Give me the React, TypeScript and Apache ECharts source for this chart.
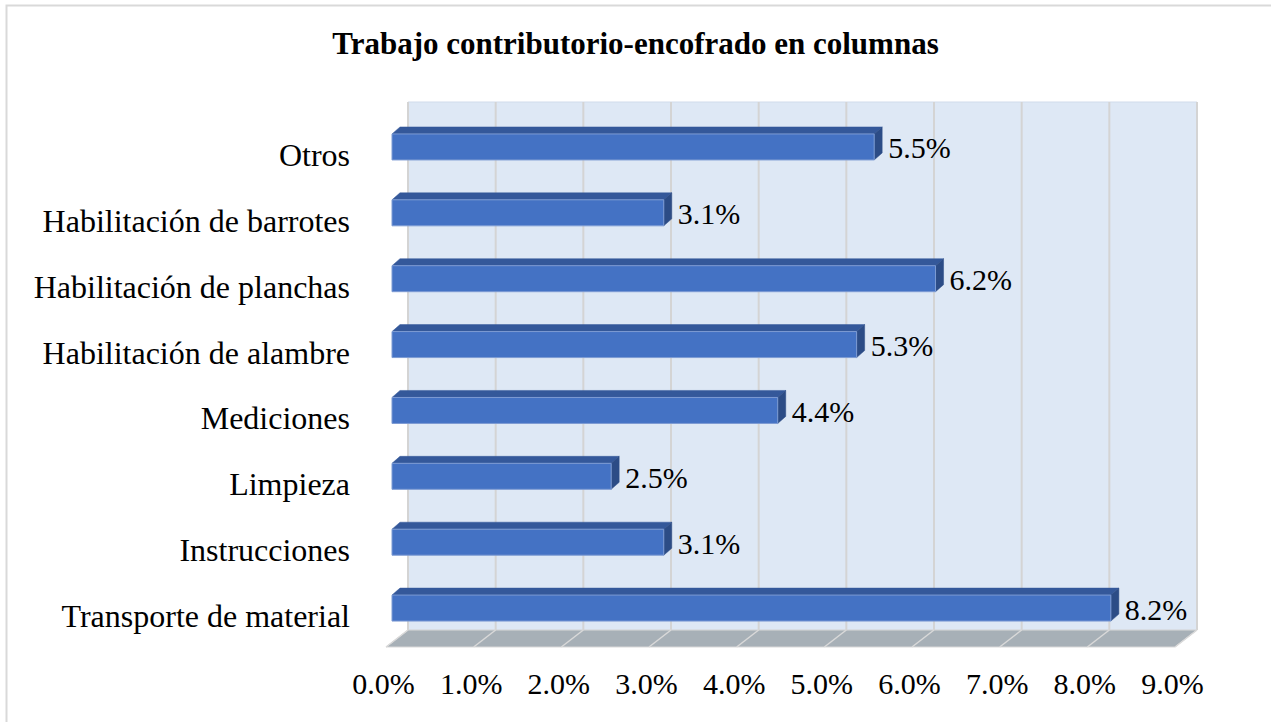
import React, { useEffect, useRef } from "react";
import * as echarts from "echarts";

const TITLE = "Trabajo contributorio-encofrado en columnas";
const categories = [
  "Otros",
  "Habilitación de barrotes",
  "Habilitación de planchas",
  "Habilitación de alambre",
  "Mediciones",
  "Limpieza",
  "Instrucciones",
  "Transporte de material",
];
const values = [5.5, 3.1, 6.2, 5.3, 4.4, 2.5, 3.1, 8.2];
const AXIS_MIN = 0;
const AXIS_MAX = 9;
const AXIS_STEP = 1;
const gridTicks = [0, 1, 2, 3, 4, 5, 6, 7, 8, 9];

const FONT = "'Liberation Serif', 'Times New Roman', serif";

export default function App() {
  const ref = useRef<HTMLDivElement>(null);
  useEffect(() => {
    document.body.style.margin = "0";
    const chart = echarts.init(ref.current!, null, { renderer: "svg" });
    // depth offsets (px)
    const BACK_DX = 16, BACK_DY = -12; // from bar-front plane to back wall
    const FRONT_DX = -6, FRONT_DY = 5; // from bar-front plane to floor front edge
    const BAR_DX = 8, BAR_DY = -7; // bar depth
    const BAR_H = 26;

    const option: any = {
      animation: false,
      backgroundColor: "#ffffff",
      title: {
        text: TITLE,
        left: "center",
        top: 23,
        textStyle: { fontFamily: FONT, fontSize: 31, fontWeight: "bold", color: "#000" },
      },
      graphic: [
        {
          type: "rect",
          shape: { x: 6.5, y: 5.5, width: 1400, height: 800 },
          style: { fill: "none", stroke: "#d9d9d9", lineWidth: 2 },
          silent: true,
        },
      ],
      grid: { left: 392, top: 115, width: 789, height: 527, containLabel: false },
      xAxis: {
        type: "value",
        min: AXIS_MIN,
        max: AXIS_MAX,
        interval: AXIS_STEP,
        splitLine: { show: false },
        axisLine: { show: false },
        axisTick: { show: false },
        axisLabel: {
          formatter: (v: number) => v.toFixed(1) + "%",
          fontFamily: FONT,
          fontSize: 30,
          color: "#000",
          margin: 26,
          padding: [0, 17, 0, 0],
        },
      },
      yAxis: {
        type: "category",
        data: categories,
        inverse: true,
        axisLine: { show: false },
        axisTick: { show: false },
        axisLabel: {
          fontFamily: FONT,
          fontSize: 32,
          color: "#000",
          margin: 42,
          verticalAlign: "top",
          lineHeight: 14,
        },
      },
      series: [
        {
          type: "custom",
          name: "walls",
          z: 1,
          silent: true,
          data: [[0]],
          renderItem: (params: any, api: any) => {
            const cs = params.coordSys;
            const x0 = api.coord([AXIS_MIN, 0])[0];
            const x9 = api.coord([AXIS_MAX, 0])[0];
            const top = cs.y + BACK_DY - 1;
            const bottom = cs.y + cs.height;
            const backBottom = bottom + BACK_DY;
            const frontBottom = bottom + FRONT_DY;
            const children: any[] = [];
            children.push({
              type: "rect",
              shape: { x: x0 + BACK_DX, y: top, width: x9 - x0, height: backBottom - top },
              style: { fill: "#dee8f5", stroke: "#d0dbeb", lineWidth: 1 },
            });
            children.push({
              type: "polygon",
              shape: {
                points: [
                  [x0 + BACK_DX, backBottom],
                  [x9 + BACK_DX, backBottom],
                  [x9 + FRONT_DX, frontBottom],
                  [x0 + FRONT_DX, frontBottom],
                ],
              },
              style: { fill: "#a7b0b7", stroke: "#d9d9d9", lineWidth: 1 },
            });
            gridTicks.forEach((t) => {
              const x = api.coord([t, 0])[0];
              children.push({
                type: "line",
                shape: { x1: x + BACK_DX, y1: top, x2: x + BACK_DX, y2: backBottom },
                style: { stroke: "#d4d4d4", lineWidth: 2 },
              });
              children.push({
                type: "line",
                shape: { x1: x + BACK_DX, y1: backBottom, x2: x + FRONT_DX, y2: frontBottom },
                style: { stroke: "#d9d9d9", lineWidth: 1.5 },
              });
            });
            return { type: "group", children };
          },
        },
        {
          type: "custom",
          name: "bars",
          z: 2,
          data: values.map((v, i) => [v, i]),
          encode: { x: 0, y: 1 },
          renderItem: (params: any, api: any) => {
            const v = api.value(0);
            const idx = api.value(1);
            const p0 = api.coord([AXIS_MIN, idx]);
            const p1 = api.coord([v, idx]);
            const x0 = p0[0];
            const x1 = p1[0];
            const yc = p0[1] - 1;
            const yt = yc - BAR_H / 2;
            const yb = yc + BAR_H / 2;
            return {
              type: "group",
              children: [
                {
                  type: "polygon",
                  shape: {
                    points: [
                      [x0, yt],
                      [x1, yt],
                      [x1 + BAR_DX, yt + BAR_DY],
                      [x0 + BAR_DX, yt + BAR_DY],
                    ],
                  },
                  style: { fill: "#34589a", stroke: "#34589a", lineWidth: 0.5 },
                },
                {
                  type: "polygon",
                  shape: {
                    points: [
                      [x1, yt],
                      [x1 + BAR_DX, yt + BAR_DY],
                      [x1 + BAR_DX, yb + BAR_DY],
                      [x1, yb],
                    ],
                  },
                  style: { fill: "#2c4c86", stroke: "#2c4c86", lineWidth: 0.5 },
                },
                {
                  type: "rect",
                  shape: { x: x0, y: yt, width: x1 - x0, height: BAR_H },
                  style: { fill: "#4472c4", stroke: "#7d9bd3", lineWidth: 1 },
                },
                {
                  type: "text",
                  x: x1 + BAR_DX + 6,
                  y: yc + 1,
                  style: {
                    text: v.toFixed(1) + "%",
                    fontFamily: FONT,
                    fontSize: 30,
                    fill: "#000",
                    align: "left",
                    verticalAlign: "middle",
                  },
                },
              ],
            };
          },
        },
      ],
    };
    chart.setOption(option);
    return () => chart.dispose();
  }, []);
  return <div ref={ref} style={{ width: 1271, height: 722 }} />;
}
